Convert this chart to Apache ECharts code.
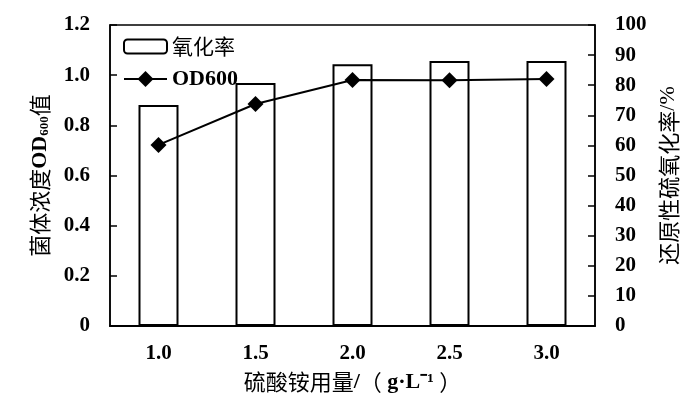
<!DOCTYPE html>
<html><head><meta charset="utf-8">
<script src="https://cdn.jsdelivr.net/npm/echarts@6/dist/echarts.min.js"></script>
<style>html,body{margin:0;padding:0;background:#fff}#c{width:700px;height:399px}</style>
</head><body><div id="c"></div>
<script>
const categories = ['1.0', '1.5', '2.0', '2.5', '3.0'];
const oxidationRate = [73.4, 80.7, 87.0, 88.0, 88.0];
const od600 = [0.722, 0.885, 0.981, 0.980, 0.985];
const leftTicks = {min: 0, max: 1.2, interval: 0.2};
const rightTicks = {min: 0, max: 100, interval: 10};

const serif = '"Liberation Serif","Times New Roman",serif';
const cjk = '"Noto Sans CJK SC","Liberation Serif",serif';
const chart = echarts.init(document.getElementById('c'));
const cnStyle = {fontFamily: cjk, fontWeight: 'normal', fontSize: 22, color: '#000'};
const tickFont = {fontFamily: serif, fontWeight: 'bold', fontSize: 21, color: '#000'};
chart.setOption({
  animation: false,
  grid: {left: 110, right: 105, top: 25, bottom: 73, show: true, borderColor: '#000', borderWidth: 1.5, backgroundColor: 'transparent'},
  legend: [
    {
      orient: 'vertical', left: 118, top: 31,
      itemWidth: 43, itemHeight: 14,
      textStyle: {fontFamily: cjk, fontWeight: 'normal', fontSize: 21, color: '#000'},
      data: ['氧化率']
    },
    {
      orient: 'vertical', left: 118, top: 63,
      itemWidth: 43, itemHeight: 20,
      textStyle: {fontFamily: serif, fontWeight: 'bold', fontSize: 22, color: '#000'},
      data: ['OD600']
    }
  ],
  xAxis: {
    type: 'category', data: categories, boundaryGap: true,
    axisLine: {lineStyle: {color: '#000', width: 2}},
    axisTick: {inside: true, length: 7, lineStyle: {color: '#000', width: 1.5}},
    axisLabel: Object.assign({margin: 17}, tickFont),
    name: '{cn|硫酸铵用量}/{cn|（} g·L⁻¹ {cn|）}', nameLocation: 'middle', nameGap: 45,
    nameTextStyle: {fontFamily: serif, fontWeight: 'bold', fontSize: 22, color: '#000', rich: {cn: cnStyle}}
  },
  yAxis: [
    {
      type: 'value', min: leftTicks.min, max: leftTicks.max, interval: leftTicks.interval, position: 'left',
      splitLine: {show: false},
      axisLine: {show: true, lineStyle: {color: '#000', width: 1.5}},
      axisTick: {show: true, inside: true, length: 7, lineStyle: {color: '#000', width: 1.5}},
      axisLabel: Object.assign({margin: 20, formatter: v => v === 0 ? '0' : v.toFixed(1)}, tickFont),
      name: '{cn|菌体浓度}OD{sub|600}{cn|值}', nameLocation: 'middle', nameRotate: 90, nameGap: 59,
      nameTextStyle: {fontFamily: serif, fontWeight: 'bold', fontSize: 22, color: '#000',
        rich: {cn: cnStyle, sub: {fontFamily: serif, fontWeight: 'bold', fontSize: 13, color: '#000', verticalAlign: 'bottom', padding: [9, 0, 0, 0]}}}
    },
    {
      type: 'value', min: rightTicks.min, max: rightTicks.max, interval: rightTicks.interval, position: 'right',
      splitLine: {show: false},
      axisLine: {show: true, lineStyle: {color: '#000', width: 1.5}},
      axisTick: {show: true, inside: true, length: 7, lineStyle: {color: '#000', width: 1.5}},
      axisLabel: Object.assign({margin: 20}, tickFont),
      name: '{cn|还原性硫氧化率}/%', nameLocation: 'middle', nameRotate: 90, nameGap: 62,
      nameTextStyle: {fontFamily: serif, fontWeight: 'normal', fontSize: 22, color: '#000',
        rich: {cn: cnStyle}}
    }
  ],
  series: [
    {
      name: '氧化率', type: 'bar', yAxisIndex: 1, data: oxidationRate, barWidth: 40,
      itemStyle: {color: '#fff', borderColor: '#000', borderWidth: 2}
    },
    {
      name: 'OD600', type: 'line', yAxisIndex: 0, data: od600,
      symbol: 'diamond', symbolSize: 16,
      lineStyle: {color: '#000', width: 2}, itemStyle: {color: '#000'}
    }
  ]
});
</script></body></html>
